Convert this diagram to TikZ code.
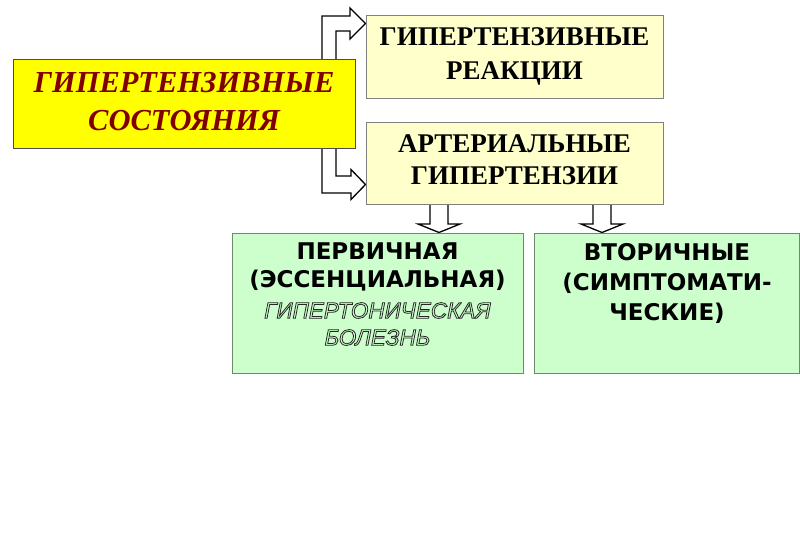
\documentclass[tikz,border=0pt]{standalone}
\usepackage{fontspec}
\setmainfont{Liberation Serif}
\newfontfamily\dvsans{DejaVu Sans}
\newfontfamily\arsans{Liberation Sans}
\newcommand{\outlinetext}[1]{\special{pdf:literal direct 1 Tr 0.8 w}#1\special{pdf:literal direct 0 Tr}}
\definecolor{yel}{HTML}{FFFF00}
\definecolor{cream}{HTML}{FFFFCC}
\definecolor{mint}{HTML}{CCFFCC}
\definecolor{darkred}{HTML}{800000}
\definecolor{edge}{HTML}{808080}
\definecolor{gedge}{HTML}{6E8A6E}
\tikzset{
  box/.style={draw=edge, line width=1.3pt, minimum width=#1, inner sep=0pt, anchor=north west},
  blockarrow/.style={draw=black, fill=white, line width=1.3pt, line join=miter},
  serifhead/.style={align=center, font=\bfseries\fontsize{27}{34}\selectfont},
  sanshead/.style={align=center, font=\dvsans\bfseries\fontsize{23}{28}\selectfont},
}
\begin{document}
\begin{tikzpicture}[x=1pt,y=-1pt]
\useasboundingbox (0,0) rectangle (800,533);
\fill[white] (0,0) rectangle (800,533);
% block arrows
\draw[blockarrow] (322,60) -- (322,16) -- (350,16) -- (350,8) -- (365.5,23.5) -- (350,39) -- (350,31) -- (336,31) -- (336,60);
\draw[blockarrow] (322,148) -- (322,193) -- (351,193) -- (351,199.5) -- (365.5,184.5) -- (351,169.5) -- (351,176) -- (336,176) -- (336,148);
\draw[blockarrow] (430,203) -- (430,224) -- (418,224) -- (439,232.5) -- (460,224) -- (448,224) -- (448,203);
\draw[blockarrow] (593,203) -- (593,224) -- (581,224) -- (602,232.5) -- (623,224) -- (611,224) -- (611,203);
% boxes
\node[box=342pt, minimum height=89pt, fill=yel, draw=black!70] (cond) at (13,59) {};
\node[box=297pt, minimum height=83pt, fill=cream] (react) at (366,15) {};
\node[box=297pt, minimum height=82pt, fill=cream] (arter) at (366,122) {};
\node[box=291pt, minimum height=140pt, fill=mint, draw=gedge] (prim) at (232,233) {};
\node[box=265pt, minimum height=140pt, fill=mint, draw=gedge] (second) at (534,233) {};
% texts
\node[align=center, text=darkred, font=\bfseries\itshape\fontsize{30.5}{38}\selectfont] (condtxt) at (184,101.5) {ГИПЕРТЕНЗИВНЫЕ\\СОСТОЯНИЯ};
\node[serifhead] (reacttxt) at (514.5,56.5) {ГИПЕРТЕНЗИВНЫЕ\\РЕАКЦИИ};
\node[serifhead, font=\bfseries\fontsize{27}{32}\selectfont] (artertxt) at (514.5,159.5) {АРТЕРИАЛЬНЫЕ\\ГИПЕРТЕНЗИИ};
\node[sanshead] (primtxt) at (377.5,267) {ПЕРВИЧНАЯ\\(ЭССЕНЦИАЛЬНАЯ)};
\node[align=center, text=black!85, font=\arsans\itshape\fontsize{22.5}{27}\selectfont] (primsub) at (377.5,324) {\outlinetext{ГИПЕРТОНИЧЕСКАЯ}\\\outlinetext{БОЛЕЗНЬ}};
\node[sanshead, font=\dvsans\bfseries\fontsize{23}{30}\selectfont] (secondtxt) at (667,283.5) {ВТОРИЧНЫЕ\\(СИМПТОМАТИ-\\ЧЕСКИЕ)};
\end{tikzpicture}
\end{document}
